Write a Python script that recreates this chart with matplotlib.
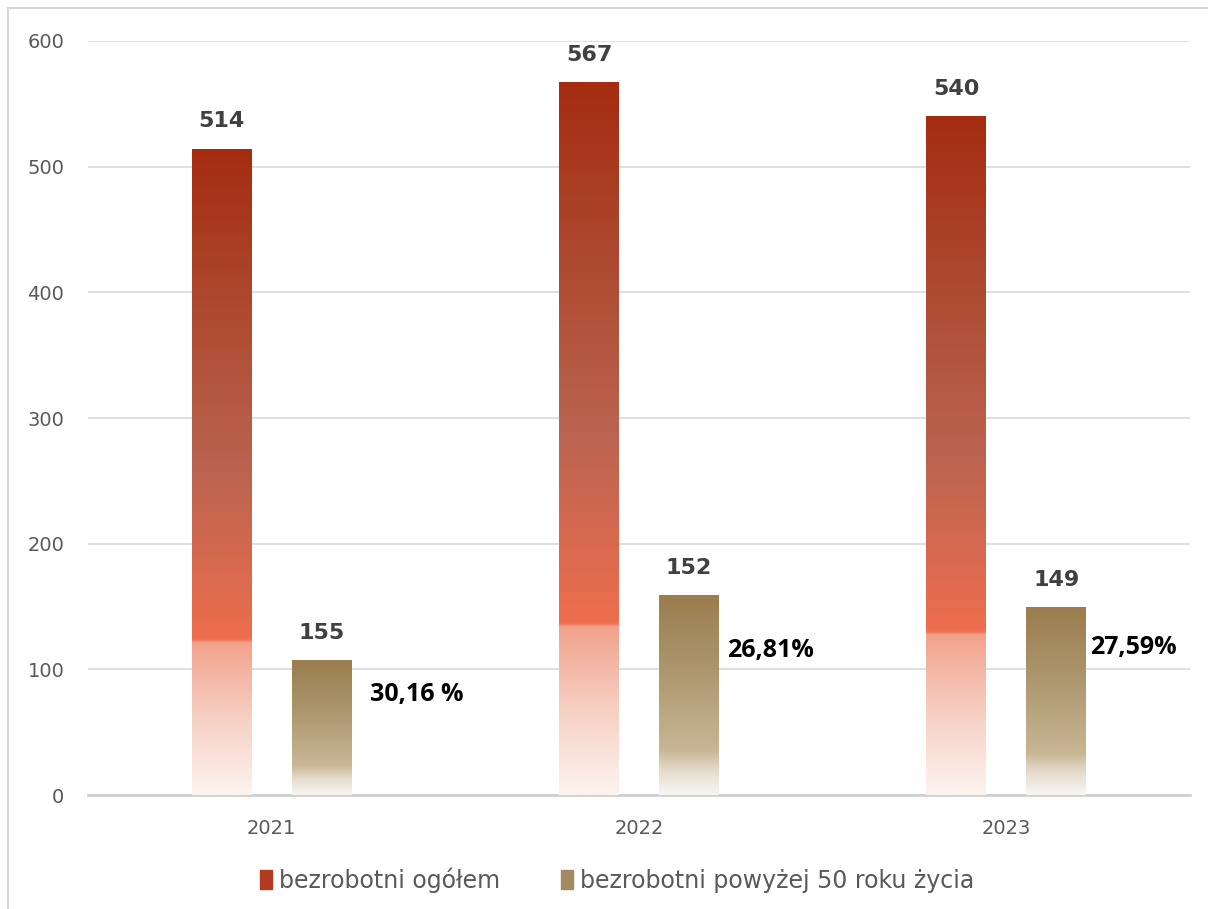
import numpy as np
import matplotlib.pyplot as plt
from matplotlib.colors import LinearSegmentedColormap
from matplotlib.patches import Patch, Rectangle

years = ["2021", "2022", "2023"]
total = [514, 567, 540]
over50 = [107, 159, 149]  # bar heights as drawn in the source
total_labels = ["514", "567", "540"]
over50_labels = ["155", "152", "149"]
pct_labels = ["30,16 %", "26,81%", "27,59%"]
pct_pos = [80, 115, 117]  # vertical position of the percentage labels
pct_gap = [0.05, 0.022, 0.011]

red_cmap = LinearSegmentedColormap.from_list("red", [
    (0.0, "#fdf3ef"), (0.12, "#f6cfc3"), (0.235, "#f2a28c"),
    (0.24, "#ee6e4e"), (0.5, "#bb6450"), (0.75, "#ad4a30"), (1.0, "#a52c10")])
brown_cmap = LinearSegmentedColormap.from_list("brown", [
    (0.0, "#f8f6f3"), (0.12, "#e6dccd"), (0.22, "#c9b695"),
    (0.6, "#ad9870"), (1.0, "#9b7d4e")])

fig = plt.figure(figsize=(12.08, 9.09), dpi=100)
ax = fig.add_axes([0.0728, 0.1254, 0.985 - 0.0728, 0.9549 - 0.1254])

x = np.arange(len(years))
w = 0.163
off = 0.136

grad = np.linspace(0, 1, 256).reshape(-1, 1)
for i in range(len(years)):
    for val, cm, dx in [(total[i], red_cmap, -off), (over50[i], brown_cmap, off)]:
        left = x[i] + dx - w / 2
        ax.imshow(grad, cmap=cm, origin="lower", aspect="auto",
                  extent=[left, left + w, 0, val], zorder=3, interpolation="bilinear")

for i in range(len(years)):
    ax.text(x[i] - off, total[i] + 14, total_labels[i], ha="center", va="bottom",
            fontsize=16, fontweight="bold", color="#404040", family="DejaVu Sans")
    ax.text(x[i] + off, over50[i] + 14, over50_labels[i], ha="center", va="bottom",
            fontsize=16, fontweight="bold", color="#404040", family="DejaVu Sans")
    ax.text(x[i] + off + w / 2 + pct_gap[i], pct_pos[i], pct_labels[i], ha="left", va="center",
            fontsize=18, fontweight="bold", color="black", family="Open Sans")

ax.set_xlim(-0.5, 2.5)
ax.set_ylim(0, 600)
ax.set_yticks(np.arange(0, 601, 100))
ax.set_xticks(x)
ax.set_xticklabels(years)
ax.tick_params(length=0, labelsize=14, labelcolor="#595959", pad=17)
ax.tick_params(axis="x", pad=17)
ax.grid(axis="y", color="#d9d9d9", lw=1.2, zorder=0)
ax.set_axisbelow(True)
for s in ["top", "right", "left"]:
    ax.spines[s].set_visible(False)
ax.spines["bottom"].set_color("#d0d0d0")
ax.spines["bottom"].set_linewidth(2)

handles = [Patch(color="#b23a1e", label="bezrobotni ogółem"),
           Patch(color="#a38a60", label="bezrobotni powyżej 50 roku życia")]
leg = fig.legend(handles=handles, loc="center", bbox_to_anchor=(0.511, 0.032), ncol=2,
                 frameon=False, handlelength=0.5, handleheight=0.9, handletextpad=0.3,
                 columnspacing=2.6, prop={"family": "DejaVu Sans", "size": 17})
for t in leg.get_texts():
    t.set_color("#595959")

fig.patches.append(Rectangle((8 / 1208, -0.1), 1.2, 1.1 - 8 / 909, transform=fig.transFigure,
                             fill=False, edgecolor="#d9d9d9", lw=1.5))

fig.savefig("out.png", dpi=100)
